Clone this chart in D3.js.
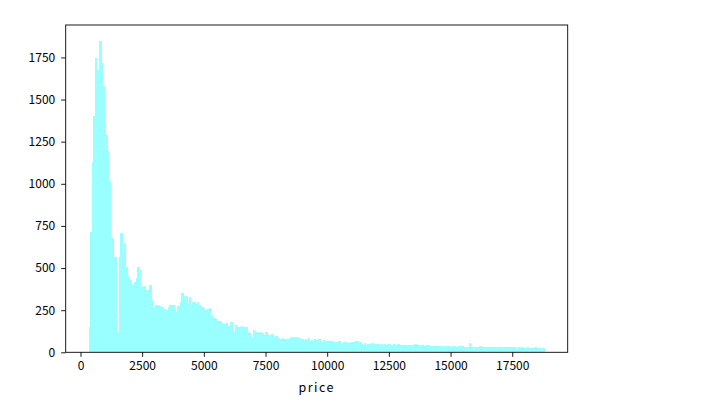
<!DOCTYPE html>
<html>
<head>
<meta charset="utf-8">
<script src="https://cdn.jsdelivr.net/npm/d3@7"></script>
<style>
    body { margin: 0; background: #fff; }
    svg text { font-family: "Noto Sans CJK SC", "DejaVu Sans", sans-serif; font-size: 12.5px; fill: #000; }
</style>
</head>
<body>
<svg id="chart" width="719" height="403"></svg>
<script>
// price histogram, 300 bins between the lowest and highest price
const priceMin = 326;
const priceMax = 18823;
const binCounts = [
    152, 713, 1132, 1400, 1747, 1677, 1677, 1850, 1717, 1578, 1360, 1291, 1192, 1014, 681, 681, 552, 568, 232, 122,
    568, 707, 580, 648, 509, 450, 430, 415, 400, 370,
    420, 440, 509, 490, 390, 360, 394, 330, 370, 340,
    400, 311, 261, 270, 280, 280, 275, 270, 265, 257,
    241, 250, 270, 280, 262, 280, 257, 241, 275, 275,
    301, 350, 336, 311, 336, 291, 329, 276, 296, 296,
    288, 301, 281, 243, 270, 261, 250, 234, 255, 261,
    222, 172, 202, 195, 183, 170, 183, 175, 170, 163,
    172, 157, 152, 177, 170, 122, 162, 150, 148, 152,
    155, 152, 142, 152, 122, 112, 103, 93, 132, 122,
    118, 112, 122, 116, 112, 102, 122, 102, 102, 96,
    106, 96, 86, 96, 83, 80, 78, 83, 80, 78,
    80, 78, 83, 93, 87, 89, 93, 83, 87, 80,
    78, 74,
    76, 70, 82, 66, 74, 60, 78, 71, 64, 80, 68, 62, 73, 58, 70, 66, 61, 69, 57,
    63, 55, 60, 66, 52, 58, 61, 55, 64, 57, 50, 62, 54, 59, 68, 70, 52, 60,
    50, 46, 53, 44, 49, 51, 45, 55, 47, 42, 50, 48, 44, 52, 46, 49, 43, 47, 51, 45, 41, 48, 46, 44, 50, 43,
    44, 40, 46, 42, 38, 45, 41, 43, 39, 47, 40, 42, 37, 44, 41, 39, 43, 38, 42, 40,
    38, 35, 40, 36, 33, 37, 39, 34, 36, 32, 38, 35, 33, 36, 31, 37, 34, 32, 35, 30, 36, 33, 31, 34, 32,
    57,
    33, 30, 34, 31, 29, 33, 35, 30, 28, 32, 31, 29, 34, 30, 27, 31, 29, 33, 28, 30, 32, 27, 29, 31,
    28, 30, 26, 29, 31, 27, 28, 30, 25, 29, 27, 28, 26, 30, 27, 25, 28, 26, 29, 27, 24, 27, 25, 26, 23
];
const xTicks = [0, 2500, 5000, 7500, 10000, 12500, 15000, 17500];
const yTicks = [0, 250, 500, 750, 1000, 1250, 1500, 1750];
const xLabel = "price";

let svg = d3.select("#chart"),
    MARGINS = { top: 25, right: 151.3, bottom: 50.7, left: 65.7 },
    WIDTH = 719,
    HEIGHT = 403;

let binWidth = (priceMax - priceMin) / binCounts.length;
let bins = binCounts.map(function(c, i) {
    return { x0: priceMin + i * binWidth, x1: priceMin + (i + 1) * binWidth, count: c };
});

let pad = (priceMax - priceMin) * 0.05;
let x = d3.scaleLinear()
    .domain([priceMin - pad, priceMax + pad])
    .range([MARGINS.left, WIDTH - MARGINS.right]);

let y = d3.scaleLinear()
    .domain([0, d3.max(binCounts) * 1.05])
    .range([HEIGHT - MARGINS.bottom, MARGINS.top]);

// bars overlap their right neighbour a little so no seams show
svg.append("g")
    .attr("shape-rendering", "crispEdges")
    .selectAll("rect")
    .data(bins)
    .enter().append("rect")
    .attr("x", function(d) { return x(d.x0); })
    .attr("width", function(d, i) { return x(d.x1) - x(d.x0) + (i < bins.length - 1 ? 1 : 0); })
    .attr("y", function(d) { return y(d.count); })
    .attr("height", function(d) { return y(0) - y(d.count); })
    .attr("fill", "#99ffff");

let fmt = d3.format("d");

let xAxis = svg.append("g")
    .attr("transform", "translate(0," + (HEIGHT - MARGINS.bottom) + ")")
    .call(d3.axisBottom(x).tickValues(xTicks).tickFormat(fmt).tickSize(4.5).tickPadding(5).tickSizeOuter(0));

let yAxis = svg.append("g")
    .attr("transform", "translate(" + MARGINS.left + ",0)")
    .call(d3.axisLeft(y).tickValues(yTicks).tickFormat(fmt).tickSize(4.5).tickPadding(6).tickSizeOuter(0));

[xAxis, yAxis].forEach(function(a) {
    a.select(".domain").remove();
    a.selectAll("line").attr("stroke", "#000").attr("stroke-width", 0.9);
    a.selectAll("text").attr("fill", "#000").style("font-size", "12px")
        .style("font-family", "\"Noto Sans CJK SC\", sans-serif");
});

// frame round the plot area
svg.append("rect")
    .attr("x", MARGINS.left)
    .attr("y", MARGINS.top)
    .attr("width", WIDTH - MARGINS.left - MARGINS.right)
    .attr("height", HEIGHT - MARGINS.top - MARGINS.bottom)
    .attr("fill", "none")
    .attr("stroke", "#000")
    .attr("stroke-width", 0.9);

svg.append("text")
    .attr("x", (MARGINS.left + WIDTH - MARGINS.right) / 2)
    .attr("y", 392)
    .attr("text-anchor", "middle")
    .style("letter-spacing", "1.5px")
    .text(xLabel);
</script>
</body>
</html>
